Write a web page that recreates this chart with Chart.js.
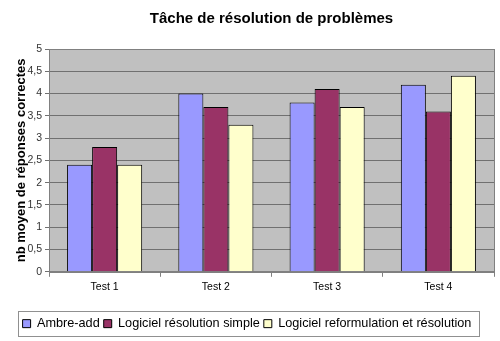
<!DOCTYPE html>
<html>
<head>
<meta charset="utf-8">
<script src="https://cdn.jsdelivr.net/npm/chart.js@4"></script>
<style>
html,body{margin:0;padding:0;background:#fff;}
#wrap{width:500px;height:341px;position:relative;}
</style>
</head>
<body>
<div id="wrap"><canvas id="c" width="500" height="341"></canvas></div>
<script>
const categories = ["Test 1", "Test 2", "Test 3", "Test 4"];
const seriesNames = ["Ambre-add", "Logiciel résolution simple", "Logiciel reformulation et résolution"];
const ambreAdd = [2.4, 4.0, 3.8, 4.2];
const resolutionSimple = [2.8, 3.7, 4.1, 3.6];
const reformulation = [2.4, 3.3, 3.7, 4.4];
const yTicks = [0, 0.5, 1, 1.5, 2, 2.5, 3, 3.5, 4, 4.5, 5];

const FONT = "'Liberation Sans', Arial, sans-serif";

const plotBg = {
  id: 'plotBg',
  beforeDraw(chart) {
    const {ctx, chartArea: a} = chart;
    ctx.save();
    ctx.fillStyle = '#C0C0C0';
    ctx.fillRect(a.left, a.top, a.right - a.left, a.bottom - a.top);
    ctx.restore();
  },
  afterDatasetsDraw(chart) {
    const {ctx, chartArea: a} = chart;
    ctx.save();
    ctx.strokeStyle = '#808080';
    ctx.lineWidth = 1;
    ctx.strokeRect(Math.round(a.left) + 0.5, Math.round(a.top) + 0.5, Math.round(a.right - a.left), Math.round(a.bottom - a.top));
    ctx.restore();
  }
};

const legendBorder = {
  id: 'legendBorder',
  afterDraw(chart) {
    const lg = chart.legend;
    if (!lg || !lg.legendHitBoxes || !lg.legendHitBoxes.length) return;
    const hb = lg.legendHitBoxes;
    let l = Infinity, r = -Infinity, t = Infinity, b = -Infinity;
    hb.forEach(h => { l = Math.min(l, h.left); r = Math.max(r, h.left + h.width); t = Math.min(t, h.top); b = Math.max(b, h.top + h.height); });
    const ctx = chart.ctx;
    ctx.save();
    ctx.strokeStyle = '#909090';
    ctx.lineWidth = 1;
    const x0 = Math.round(l - 5), x1 = Math.round(r + 8), y0 = Math.round(t - 6), y1 = Math.round(b + 6);
    ctx.strokeRect(x0 + 0.5, y0 + 0.5, x1 - x0, y1 - y0);
    ctx.restore();
  }
};

const colors = ['#9999FF', '#993366', '#FFFFCC'];
const values = [ambreAdd, resolutionSimple, reformulation];

new Chart(document.getElementById('c'), {
  type: 'bar',
  data: {
    labels: categories,
    datasets: seriesNames.map((n, i) => ({
      label: n,
      data: values[i],
      backgroundColor: colors[i],
      borderColor: '#000000',
      borderWidth: 1,
      categoryPercentage: 0.675,
      barPercentage: 1.0
    }))
  },
  plugins: [plotBg, legendBorder],
  options: {
    responsive: false,
    animation: false,
    devicePixelRatio: 1,
    layout: { padding: { left: 0, right: 6, top: 0, bottom: 1 } },
    plugins: {
      tooltip: { enabled: false },
      title: {
        display: true,
        text: 'Tâche de résolution de problèmes',
        color: '#000',
        font: { family: FONT, size: 15, weight: 'bold' },
        padding: { top: 10, bottom: 21 },
        fullSize: false
      },
      legend: {
        position: 'bottom',
        labels: {
          color: '#000',
          font: { family: FONT, size: 12.7 },
          boxWidth: 8,
          boxHeight: 8,
          padding: 4,
          generateLabels(chart) {
            return chart.data.datasets.map((d, i) => ({
              text: d.label,
              fillStyle: d.backgroundColor,
              strokeStyle: '#000',
              lineWidth: 1,
              datasetIndex: i,
              hidden: false,
              fontColor: '#000'
            }));
          }
        }
      }
    },
    scales: {
      x: {
        grid: { offset: true, drawOnChartArea: false, drawTicks: true, tickLength: 5, color: '#808080' },
        border: { color: '#808080' },
        ticks: { color: '#000', font: { family: FONT, size: 10.5 }, padding: 4 },
        afterFit(s) { s.height = 41.5; }
      },
      y: {
        min: 0, max: 5,
        afterBuildTicks(s) { s.ticks = yTicks.map(v => ({ value: v })); },
        grid: { color: '#707070', tickLength: 4, drawTicks: true },
        border: { color: '#808080' },
        ticks: {
          color: '#333',
          font: { family: FONT, size: 10.5 },
          padding: 3,
          callback: v => String(v).replace('.', ',')
        },
        title: {
          display: true,
          text: 'nb moyen de réponses correctes',
          color: '#000',
          font: { family: FONT, size: 13, weight: 'bold' },
          padding: { top: 14, bottom: 2 }
        },
        afterFit(s) { s.width = 49; }
      }
    }
  }
});
</script>
</body>
</html>
